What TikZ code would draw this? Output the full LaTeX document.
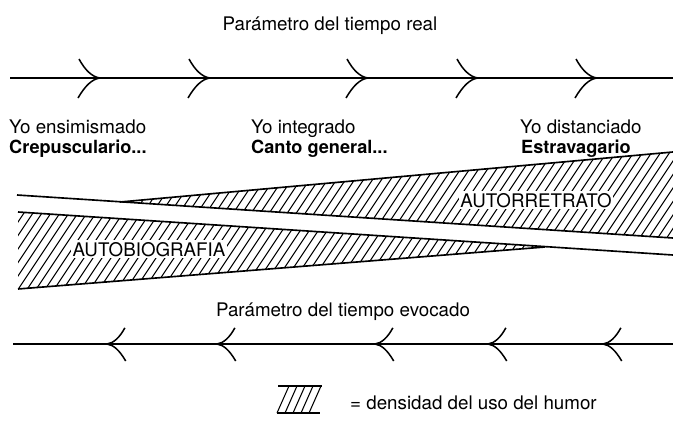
\documentclass[tikz,border=0pt]{standalone}
\usepackage{fontspec}
\setmainfont{TeX Gyre Heros}
\usetikzlibrary{calc}
\tikzset{
    axis line/.style={line width=1.6pt},
    edge line/.style={line width=1.4pt},
    hatch/.style={line width=0.9pt},
    txt/.style={inner sep=0pt, font=\fontsize{16}{19}\selectfont},
    booktxt/.style={inner sep=0pt, font=\fontsize{15.5}{18}\selectfont\bfseries},
    bandtxt/.style={fill=white, inner sep=1.5pt, font=\fontsize{16}{19}\selectfont},
    barb/.pic={\draw[line width=1.3pt] (-21,-19) .. controls (-15,-8) and (-8,-1) .. (0,0)
                                       .. controls (-8,1) and (-15,8) .. (-22,20);}
}

\begin{document}
\begin{tikzpicture}[x=0.03cm,y=-0.03cm]
\useasboundingbox (0,0) rectangle (673,421);

% real time axis
\node[txt, anchor=base] (real) at (330,30) {Parámetro del tiempo real};
\coordinate (t0) at (10,78);
\coordinate (t1) at (673,78);
\draw[axis line] (t0) -- (t1);
\foreach \x in {100,210,368,478,597}
    \pic at (\x,78) {barb};

% the three stages
\node[txt, anchor=base west] (yo1) at (9,133) {Yo ensimismado};
\node[booktxt, anchor=base west] (cre) at (9,153) {Crepusculario...};
\node[txt, anchor=base west] (yo2) at (251,133) {Yo integrado};
\node[booktxt, anchor=base west] (can) at (251,153) {Canto general...};
\node[txt, anchor=base west] (yo3) at (520,133) {Yo distanciado};
\node[booktxt, anchor=base west] (est) at (521,153) {Estravagario};

% wedges
\coordinate (ubl) at (17,195);
\coordinate (ubr) at (673,238);
\coordinate (uapex) at (120,202);
\coordinate (utr) at (673,152);
\coordinate (ltl) at (18,212);
\coordinate (ltr) at (673,255);
\coordinate (lbl) at (18,289);
\coordinate (lapex) at (545,247);

\begin{scope}
    \clip (uapex) -- (utr) -- (ubr) -- cycle;
    \foreach \x in {40,49,...,690}
        \draw[hatch] (\x,260) -- ++(80,-120);
\end{scope}
\begin{scope}
    \clip (ltl) -- (lapex) -- (lbl) -- cycle;
    \foreach \x in {-70,-61,...,560}
        \draw[hatch] (\x,300) -- ++(80,-120);
\end{scope}

\draw[edge line] (ubl) -- (ubr);
\draw[edge line] (uapex) -- (utr);
\draw[edge line] (ltl) -- (ltr);
\draw[edge line] (lbl) -- (lapex);

\node[bandtxt, anchor=base] (auto1) at (536,207) {AUTORRETRATO};
\node[bandtxt, anchor=base] (auto2) at (149,256) {AUTOBIOGRAFIA};

% evoked time axis
\node[txt, anchor=base] (evoc) at (343,316) {Parámetro del tiempo evocado};
\coordinate (b0) at (13,344);
\coordinate (b1) at (673,344);
\draw[axis line] (b0) -- (b1);
\foreach \x in {107,217,375,488,603}
    \pic[xscale=-0.85,yscale=0.85] at (\x,344) {barb};

% legend
\coordinate (k1) at (278,386);
\coordinate (k2) at (322,386);
\coordinate (k3) at (277,413);
\coordinate (k4) at (320,413);
\draw[edge line] (k1) -- (k2);
\draw[edge line] (k3) -- (k4);
\foreach \x in {277,285,293,301,309}
    \draw[hatch] (\x,413) -- ++(12,-27);
\node[txt, anchor=base west] (leg) at (350,409) {= densidad del uso del humor};

\end{tikzpicture}
\end{document}
